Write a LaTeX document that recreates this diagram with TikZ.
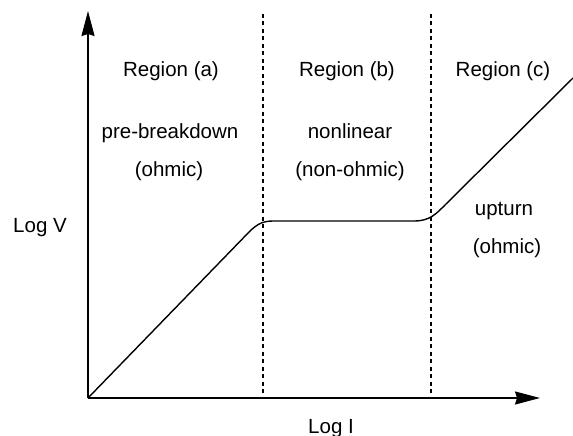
\documentclass[tikz,border=0pt]{standalone}
\usepackage{fontspec}
\setmainfont{Liberation Sans}
\usetikzlibrary{arrows.meta}
\begin{document}
\begin{tikzpicture}[x=1pt,y=-1pt,
  lbl/.style={font=\fontsize{20.5}{23}\selectfont, inner sep=0pt, anchor=base},
  axis/.style={line width=1.8pt, -{Stealth[length=25pt,width=13pt,inset=2pt]}},
  divider/.style={line width=1.8pt, dash pattern=on 4pt off 3.5pt},
  curve/.style={line width=1.4pt, line join=round}]
\useasboundingbox (0,0) rectangle (573,436);
\coordinate (O) at (88,398);
\coordinate (Ytip) at (88,11);
\coordinate (Xtip) at (540,398);
\coordinate (d1t) at (263,14);
\coordinate (d1b) at (263,398);
\coordinate (d2t) at (431,14);
\coordinate (d2b) at (431,398);
\coordinate (e) at (573,78);
\draw[divider] (d1t) -- (d1b);
\draw[divider] (d2t) -- (d2b);
\draw[axis] (O) -- (Ytip);
\draw[axis] (O) -- (Xtip);
\draw[curve] (O) -- (251,230) .. controls (262,220) and (268,221) .. (282,221)
  -- (414,221) .. controls (430,221) and (436,214) .. (446,204) -- (e);
\node[lbl] (ra) at (171,77) {Region (a)};
\node[lbl] (rb) at (347,77) {Region (b)};
\node[lbl] (rc) at (503,77) {Region (c)};
\node[lbl] (pb) at (170,138) {pre-breakdown};
\node[lbl] (oa) at (169,176) {(ohmic)};
\node[lbl] (nl) at (350,138) {nonlinear};
\node[lbl] (nh) at (350,176) {(non-ohmic)};
\node[lbl] (up) at (504,215) {upturn};
\node[lbl] (oc) at (507,253) {(ohmic)};
\node[lbl] (lv) at (40,232) {Log V};
\node[lbl] (li) at (331,433) {Log I};
\end{tikzpicture}
\end{document}
